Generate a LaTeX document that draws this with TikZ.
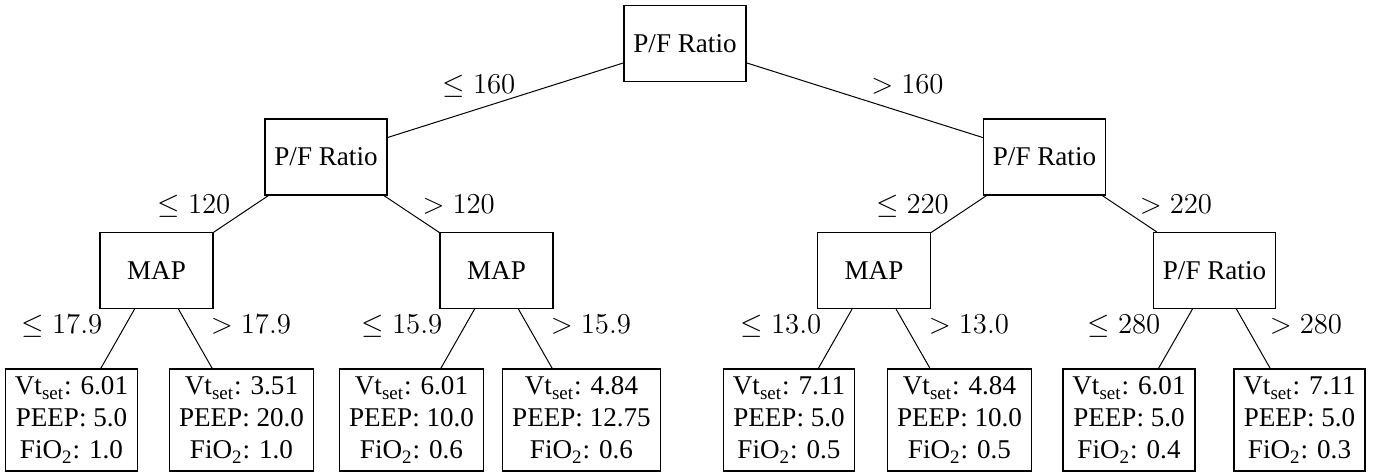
\documentclass[tikz,border=0pt]{standalone}
\usepackage[no-math]{fontspec}
\setmainfont{Liberation Serif}
\begin{document}
\begin{tikzpicture}[x=0.5pt,y=-0.5pt,
  every node/.style={font=\fontsize{13.55}{16}\selectfont},
  split/.style={draw,line width=0.6pt,minimum width=56.5pt,minimum height=38pt,inner xsep=4.7pt},
  leaf/.style={draw,line width=0.6pt,align=center,minimum height=51pt,inner xsep=4.7pt,inner ysep=2pt},
  cond/.style={anchor=base,inner sep=0pt},
  conn/.style={line width=0.5pt}]
\useasboundingbox (0,0) rectangle (1378,474);
% split nodes
\node[split] (r) at (685,43.5) {P/F Ratio};
\node[split] (a) at (326,157) {P/F Ratio};
\node[split] (b) at (1044.5,157) {P/F Ratio};
\node[split] (aa) at (156.5,270.5) {MAP};
\node[split] (ab) at (496.5,270.5) {MAP};
\node[split] (ba) at (874,270.5) {MAP};
\node[split] (bb) at (1214.5,270.5) {P/F Ratio};
% leaves
\node[leaf] (l1) at (71.5,420) {Vt\textsubscript{set}: 6.01\\PEEP: 5.0\\FiO\textsubscript{2}: 1.0};
\node[leaf] (l2) at (241.5,420) {Vt\textsubscript{set}: 3.51\\PEEP: 20.0\\FiO\textsubscript{2}: 1.0};
\node[leaf] (l3) at (411.5,420) {Vt\textsubscript{set}: 6.01\\PEEP: 10.0\\FiO\textsubscript{2}: 0.6};
\node[leaf] (l4) at (581.5,420) {Vt\textsubscript{set}: 4.84\\PEEP: 12.75\\FiO\textsubscript{2}: 0.6};
\node[leaf] (l5) at (789,420) {Vt\textsubscript{set}: 7.11\\PEEP: 5.0\\FiO\textsubscript{2}: 0.5};
\node[leaf] (l6) at (959.5,420) {Vt\textsubscript{set}: 4.84\\PEEP: 10.0\\FiO\textsubscript{2}: 0.5};
\node[leaf] (l7) at (1129,420) {Vt\textsubscript{set}: 6.01\\PEEP: 5.0\\FiO\textsubscript{2}: 0.4};
\node[leaf] (l8) at (1299.5,420) {Vt\textsubscript{set}: 7.11\\PEEP: 5.0\\FiO\textsubscript{2}: 0.3};
% connectors
\draw[conn] (r) -- (a);
\draw[conn] (r) -- (b);
\draw[conn] (a) -- (aa);
\draw[conn] (a) -- (ab);
\draw[conn] (b) -- (ba);
\draw[conn] (b) -- (bb);
\draw[conn] (aa) -- (l1);
\draw[conn] (aa) -- (l2);
\draw[conn] (ab) -- (l3);
\draw[conn] (ab) -- (l4);
\draw[conn] (ba) -- (l5);
\draw[conn] (ba) -- (l6);
\draw[conn] (bb) -- (l7);
\draw[conn] (bb) -- (l8);
% conditions
\node[cond] (c1) at (479,94) {$\leq 160$};
\node[cond] (c2) at (907.5,94) {$> 160$};
\node[cond] (c3) at (194,214) {$\leq 120$};
\node[cond] (c4) at (458.7,214) {$> 120$};
\node[cond] (c5) at (912.5,214) {$\leq 220$};
\node[cond] (c6) at (1176,214) {$> 220$};
\node[cond] (c7) at (62,334) {$\leq 17.9$};
\node[cond] (c8) at (251,334) {$> 17.9$};
\node[cond] (c9) at (402,334) {$\leq 15.9$};
\node[cond] (c10) at (591,334) {$> 15.9$};
\node[cond] (c11) at (781,334) {$\leq 13.0$};
\node[cond] (c12) at (969,334) {$> 13.0$};
\node[cond] (c13) at (1124,334) {$\leq 280$};
\node[cond] (c14) at (1306,334) {$> 280$};
\end{tikzpicture}
\end{document}
